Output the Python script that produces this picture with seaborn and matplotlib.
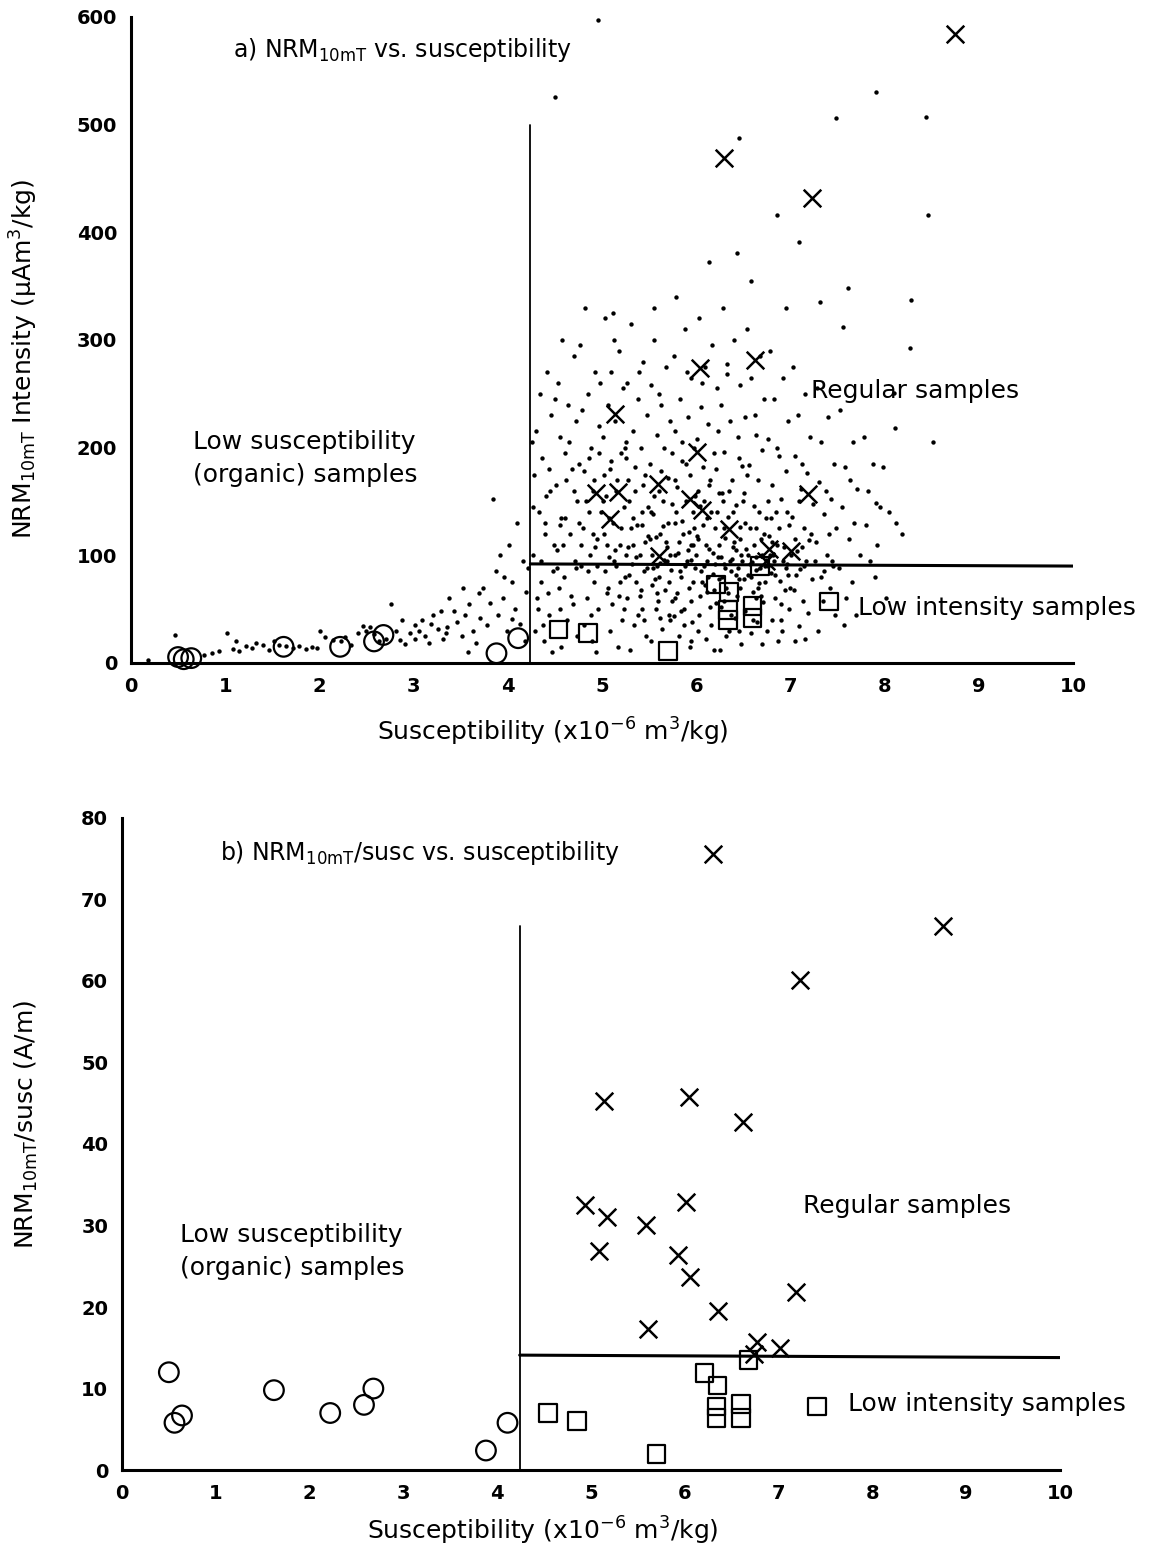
import matplotlib
matplotlib.use("Agg")
import matplotlib.pyplot as plt
import seaborn as sns
import pandas as pd
from matplotlib.ticker import MultipleLocator

# ---------------- data ----------------
# "X" samples (regular samples highlighted)
sus_x = [6.30, 8.75, 7.23, 5.14, 6.04, 6.62, 4.94, 6.01, 5.17, 5.59, 5.09, 5.93,
         6.06, 7.19, 6.35, 5.61, 6.77, 7.01, 6.74]
nrm_x = [469, 584, 432, 231, 274, 281, 158, 196, 159, 166, 134, 152,
         142, 157, 124, 99, 106, 104, 95]
ratio_x = [75.6, 66.7, 60.1, 45.3, 45.8, 42.7, 32.5, 32.9, 31.0, 30.1, 26.9, 26.4,
           23.7, 21.8, 19.5, 17.3, 15.7, 15.0, 14.2]

# squares: low intensity samples
sus_sq = [4.54, 4.85, 5.70, 6.21, 6.35, 6.34, 6.34, 6.60, 6.60, 6.68, 7.41]
nrm_sq = [31, 28, 11, 73, 66, 49, 40, 53, 42, 90, 57]
ratio_sq = [7.0, 6.0, 2.0, 11.9, 10.4, 7.8, 6.4, 8.1, 6.4, 13.5, 7.8]

# circles: low susceptibility (organic) samples
sus_c = [0.50, 0.56, 0.64, 1.62, 2.22, 2.58, 2.68, 3.88, 4.11]
nrm_c = [5.5, 3.5, 4.5, 15, 15, 20, 26, 9, 23]
ratio_c = [12.0, 5.8, 6.7, 9.8, 7.0, 8.0, 10.0, 2.4, 5.8]

# background dots of panel a (all other samples)
dots_tail = [(0.18,3),(0.47,26),(0.78,7),(0.86,9),(0.93,11),(1.02,28),(1.08,13),(1.15,11),(1.22,16),
 (1.28,14),(1.33,19),(1.40,17),(1.46,12),(1.52,20),(1.57,17),(1.72,14),(1.78,16),(1.86,13),(1.92,15),
 (1.97,14),(2.01,30),(2.06,24),(2.14,21),(2.27,24),(2.34,17),(2.41,28),(2.46,34),(2.50,30),(2.54,33),
 (2.63,20),(2.71,22),(2.76,55),(2.81,30),(2.86,21),(2.91,18),(2.96,28),(3.01,35),(3.06,30),(3.09,40),
 (3.12,25),(3.16,19),(3.21,45),(3.26,32),(3.31,22),(3.34,28),(3.38,60),(3.43,48),(3.46,38),(3.51,25),
 (3.55,45),(3.59,55),(3.63,30),(3.66,19),(3.71,42),(3.74,70),(3.78,35),(3.81,56),(3.84,152),(3.87,85),
 (3.90,45),(3.92,100),(3.95,60),(3.99,30),(4.01,110),(4.05,75),(4.08,50),(4.13,36),(4.16,95),(4.19,66),
 (3.52,70),(3.29,48),(3.02,22),(2.88,40),(3.69,65),(3.96,80),(4.04,41),(4.21,88),(4.18,20),(3.58,10),
 (4.10,130),(3.36,33),(3.18,36),(2.58,27),(2.23,20),(1.65,16),(1.12,20)]

dots_cloud = [
 (4.30,215),(4.36,190),(4.28,175),(4.45,160),(4.33,140),(4.40,120),(4.27,100),(4.48,85),(4.35,75),
 (4.31,60),(4.44,45),(4.29,30),(4.38,20),(4.47,10),(4.34,250),(4.42,270),(4.46,230),(4.26,205),
 (4.39,130),(4.43,65),(4.32,50),(4.37,35),(4.41,155),(4.27,145),(4.49,110),
 (4.58,300),(4.70,285),(4.53,260),(4.64,240),(4.72,225),(4.55,210),(4.61,195),(4.68,180),(4.51,165),
 (4.74,150),(4.57,135),(4.66,120),(4.52,105),(4.71,95),(4.60,80),(4.54,70),(4.69,55),(4.63,40),
 (4.73,25),(4.56,15),(4.67,62),(4.50,245),(4.62,170),(4.59,110),(4.65,205),(4.72,88),(4.55,128),
 (4.82,330),(4.77,295),(4.93,270),(4.85,250),(4.79,235),(4.97,220),(4.88,200),(4.76,185),(4.91,170),
 (4.83,150),(4.99,140),(4.80,125),(4.95,115),(4.87,100),(4.78,90),(4.92,75),(4.84,60),(4.96,50),
 (4.81,35),(4.89,20),(4.94,10),(4.98,260),(4.86,190),(4.90,160),(4.76,130),(4.85,85),(4.93,108),
 (4.81,178),(4.97,195),(4.88,45),
 (5.03,320),(5.18,290),(5.10,270),(5.22,255),(5.06,240),(5.14,225),(5.01,210),(5.20,195),(5.08,180),
 (5.16,170),(5.04,155),(5.23,145),(5.12,130),(5.02,120),(5.19,110),(5.07,98),(5.15,90),(5.24,80),
 (5.05,65),(5.11,55),(5.21,40),(5.09,30),(5.17,15),(5.13,300),(5.24,200),(5.01,150),(5.14,105),
 (5.06,70),(5.20,125),(5.10,188),(5.03,85),(5.18,62),
 (5.31,315),(5.44,280),(5.27,260),(5.38,245),(5.48,230),(5.33,215),(5.41,200),(5.26,190),(5.46,175),
 (5.35,160),(5.29,150),(5.43,140),(5.37,128),(5.49,118),(5.28,108),(5.40,100),(5.32,92),(5.45,85),
 (5.36,75),(5.27,60),(5.42,50),(5.34,35),(5.47,25),(5.30,12),(5.39,270),(5.26,205),(5.44,165),
 (5.33,135),(5.48,88),(5.38,45),(5.29,82),(5.46,112),(5.35,182),(5.41,68),
 (5.55,300),(5.68,275),(5.52,258),(5.63,240),(5.72,225),(5.58,212),(5.66,200),(5.51,185),(5.70,172),
 (5.60,160),(5.74,148),(5.54,138),(5.65,127),(5.57,117),(5.69,108),(5.53,100),(5.62,93),(5.73,86),
 (5.56,78),(5.67,68),(5.59,58),(5.71,45),(5.64,32),(5.52,20),(5.61,250),(5.74,195),(5.55,155),
 (5.68,112),(5.60,80),(5.72,40),(5.58,90),(5.66,96),(5.53,72),(5.70,130),(5.63,178),(5.57,50),
 (5.79,340),(5.88,310),(5.76,285),(5.95,265),(5.83,245),(5.91,228),(5.78,215),(5.98,200),(5.85,188),
 (5.93,175),(5.80,163),(5.89,150),(5.97,140),(5.77,130),(5.86,120),(5.94,110),(5.81,102),(5.90,95),
 (5.99,88),(5.84,80),(5.92,70),(5.78,60),(5.87,50),(5.96,38),(5.82,25),(5.93,15),(5.90,270),
 (5.85,205),(5.77,170),(5.98,125),(5.88,90),(5.80,65),(5.95,96),(5.83,85),(5.91,105),(5.76,44),(5.99,155),
 (6.03,320),(6.17,295),(6.09,275),(6.22,255),(6.05,238),(6.13,222),(6.01,208),(6.19,195),(6.07,182),
 (6.15,170),(6.24,158),(6.04,146),(6.11,135),(6.20,125),(6.02,115),(6.14,106),(6.23,98),(6.08,90),
 (6.18,83),(6.06,75),(6.12,66),(6.21,56),(6.03,45),(6.16,35),(6.10,22),(6.19,12),(6.06,260),
 (6.23,215),(6.14,165),(6.01,118),(6.20,92),(6.09,72),(6.12,95),(6.18,102),(6.05,85),(6.24,78),
 (6.15,52),(6.02,30),
 (6.28,330),(6.40,300),(6.33,278),(6.47,258),(6.26,240),(6.36,225),(6.44,210),(6.30,196),(6.49,183),
 (6.38,170),(6.27,158),(6.42,147),(6.34,136),(6.46,126),(6.31,116),(6.39,108),(6.48,100),(6.29,92),
 (6.37,85),(6.45,78),(6.32,70),(6.43,62),(6.26,52),(6.41,42),(6.35,30),(6.48,18),(6.33,268),
 (6.45,190),(6.28,150),(6.40,112),(6.36,95),(6.30,58),(6.44,88),(6.38,97),(6.27,80),(6.47,70),
 (6.42,105),(6.32,25),
 (6.54,310),(6.68,285),(6.58,265),(6.72,245),(6.52,228),(6.64,212),(6.70,198),(6.56,184),(6.66,170),
 (6.51,158),(6.61,146),(6.74,135),(6.57,125),(6.69,115),(6.53,106),(6.63,98),(6.73,90),(6.55,82),
 (6.67,74),(6.60,66),(6.71,57),(6.52,48),(6.65,38),(6.58,28),(6.70,18),(6.62,230),(6.54,175),
 (6.72,120),(6.59,94),(6.66,70),(6.68,88),(6.57,92),(6.74,96),(6.63,86),(6.51,78),(6.69,62),
 (6.78,290),(6.92,265),(6.83,245),(6.97,225),(6.76,208),(6.88,192),(6.95,178),(6.80,165),(6.90,152),
 (6.85,140),(6.99,128),(6.77,118),(6.93,108),(6.82,100),(6.96,92),(6.79,84),(6.89,76),(6.94,68),
 (6.84,60),(6.98,50),(6.81,40),(6.91,30),(6.87,20),(6.86,200),(6.79,135),(6.95,88),(6.90,55),
 (6.83,95),(6.76,90),(6.97,82),
 (7.03,275),(7.15,250),(7.08,230),(7.21,210),(7.05,192),(7.18,176),(7.11,162),(7.24,148),(7.02,136),
 (7.14,125),(7.20,114),(7.07,104),(7.17,95),(7.10,87),(7.23,78),(7.04,68),(7.13,58),(7.19,46),
 (7.09,34),(7.16,22),(7.12,185),(7.22,120),(7.06,82),(7.01,100),(7.14,90),
 (7.28,255),(7.40,228),(7.33,205),(7.46,185),(7.30,168),(7.43,152),(7.36,138),(7.48,125),(7.27,112),
 (7.39,100),(7.45,90),(7.32,80),(7.42,70),(7.35,58),(7.47,45),(7.29,30),(7.38,160),(7.44,95),
 (7.31,335),(7.41,120),
 (7.53,235),(7.66,205),(7.58,182),(7.71,162),(7.55,145),(7.68,130),(7.62,115),(7.74,100),(7.52,88),
 (7.65,75),(7.59,60),(7.70,45),(7.63,170),(7.61,348),(7.56,312),(7.57,35),
 (7.78,210),(7.88,185),(7.82,160),(7.95,145),(7.80,128),(7.92,110),(7.85,95),(7.98,182),(7.91,149),
 (8.05,140),(8.12,130),(8.18,120),(8.10,251),(8.11,218),(7.90,80),(8.02,60)]

dots_dense = [(5.02,175),(5.07,135),(5.13,95),(5.19,75),(5.23,50),(5.28,170),(5.31,125),(5.36,98),
 (5.40,62),(5.45,40),(5.49,145),(5.51,115),(5.54,88),(5.58,65),(5.62,42),(5.65,150),(5.69,95),
 (5.71,75),(5.74,58),(5.77,100),(5.79,140),(5.82,112),(5.84,48),(5.87,35),(5.89,185),(5.92,122),
 (5.94,58),(5.97,75),(6.00,100),(6.02,160),(6.04,62),(6.07,128),(6.10,110),(6.13,80),(6.16,140),
 (6.19,68),(6.21,180),(6.24,110),(6.26,98),(6.29,125),(6.31,88),(6.34,65),(6.37,45),(6.39,140),
 (6.42,82),(6.46,115),(6.49,95),(6.52,130),(6.55,100),(6.58,80),(6.61,110),(6.64,60),(6.67,140),
 (6.70,100),(6.73,75),(6.76,150),(6.80,112),(6.84,82),(6.88,125),(6.92,95),(6.96,140),(7.00,70),
 (7.05,115),(7.09,150),(4.35,95),(4.44,180),(4.52,88),(4.61,135),(4.70,160),(4.78,110),(4.86,140),
 (4.95,90),(4.55,50),(4.90,120),(5.05,110),(5.15,160),(5.25,100),(5.33,110),(5.43,128),(5.52,140),
 (5.62,120),(5.72,100),(5.85,132),(5.97,110),(6.08,150),(6.22,140),(6.35,160),(6.50,150),(6.63,125),
 (6.78,100),(6.86,110),(7.12,108),(7.26,95),(7.36,85),(6.45,30),(6.60,40),(6.90,40),(5.95,20),
 (6.25,12),(6.75,30),(7.05,20)]

dots_outliers = [(4.96,597),(4.50,526),(6.45,488),(6.43,381),(6.14,372),(7.09,391),(7.48,506),
 (7.91,530),(8.44,507),(8.46,416),(8.28,337),(8.27,293),(8.51,205),(6.86,416),(5.55,330),
 (6.58,355),(5.12,325),(6.95,330)]

# threshold lines
sus_cut = 4.24
nrm_cut = 92
nrm_vline_top = 500
ratio_cut = 14.1
ratio_vline_top = 66.7

# ---------------- style ----------------
sns.set_theme(style="white")
plt.rcParams['font.family'] = ['DejaVu Sans']
plt.rcParams['mathtext.default'] = 'regular'
plt.rcParams['text.color'] = 'black'
plt.rcParams['axes.labelcolor'] = 'black'
plt.rcParams['xtick.color'] = 'black'
plt.rcParams['ytick.color'] = 'black'

fig = plt.figure(figsize=(11.56, 15.45), dpi=100)
axa = fig.add_axes([0.1133, 0.5709, 0.8149, 0.4181])
axb = fig.add_axes([0.1055, 0.0485, 0.8115, 0.4221])

all_dots = dots_tail + dots_cloud + dots_dense + dots_outliers
df_dots = pd.DataFrame(all_dots, columns=["sus", "nrm"])

sns.scatterplot(data=df_dots, x="sus", y="nrm", ax=axa, s=10, color="black",
                linewidth=0, marker="o", clip_on=False, legend=False)
sns.scatterplot(x=sus_x, y=nrm_x, ax=axa, marker="x", s=160, color="black",
                linewidth=1.8, clip_on=False, legend=False)
sns.scatterplot(x=sus_sq, y=nrm_sq, ax=axa, marker="s", s=160, facecolor="none",
                edgecolor="black", linewidth=1.6, clip_on=False, legend=False)
sns.scatterplot(x=sus_c, y=nrm_c, ax=axa, marker="o", s=200, facecolor="none",
                edgecolor="black", linewidth=1.6, clip_on=False, legend=False)

sns.scatterplot(x=sus_x, y=ratio_x, ax=axb, marker="x", s=160, color="black",
                linewidth=1.8, clip_on=False, legend=False)
sns.scatterplot(x=sus_sq, y=ratio_sq, ax=axb, marker="s", s=160, facecolor="none",
                edgecolor="black", linewidth=1.6, clip_on=False, legend=False)
sns.scatterplot(x=sus_c, y=ratio_c, ax=axb, marker="o", s=200, facecolor="none",
                edgecolor="black", linewidth=1.6, clip_on=False, legend=False)

axa.plot([sus_cut, sus_cut], [0, nrm_vline_top], color="black", lw=1.3)
axa.plot([sus_cut, 10], [nrm_cut, nrm_cut - 2], color="black", lw=2.2)
axb.plot([sus_cut, sus_cut], [0, ratio_vline_top], color="black", lw=1.3)
axb.plot([sus_cut, 10], [ratio_cut, ratio_cut - 0.3], color="black", lw=2.2)

for ax, ylim, ymaj, ymin in [(axa, 600, 100, 50), (axb, 80, 10, 5)]:
    ax.set_xlim(0, 10)
    ax.set_ylim(0, ylim)
    ax.xaxis.set_major_locator(MultipleLocator(1))
    ax.xaxis.set_minor_locator(MultipleLocator(0.5))
    ax.yaxis.set_major_locator(MultipleLocator(ymaj))
    ax.yaxis.set_minor_locator(MultipleLocator(ymin))
    for s in ["top", "right"]:
        ax.spines[s].set_visible(False)
    for s in ["left", "bottom"]:
        ax.spines[s].set_linewidth(2.2)
        ax.spines[s].set_color("black")
    ax.tick_params(which="both", direction="in", length=11, width=1.8,
                   colors="black", labelsize=14, pad=10)
    for lab in ax.get_xticklabels() + ax.get_yticklabels():
        lab.set_fontweight("bold")
    ax.set_facecolor("white")

fs = 18
axa.set_xlabel(r"Susceptibility (x10$^{-6}$ m$^{3}$/kg)", fontsize=fs, color="black")
axa.set_ylabel(r"NRM$_{10mT}$ Intensity ($\mu$Am$^{3}$/kg)", fontsize=fs, color="black")
axb.set_xlabel(r"Susceptibility (x10$^{-6}$ m$^{3}$/kg)", fontsize=fs, color="black")
axb.set_ylabel(r"NRM$_{10mT}$/susc (A/m)", fontsize=fs, color="black")
axa.xaxis.set_label_coords(0.448, -0.082)
axa.yaxis.set_label_coords(-0.097, 0.47)
axb.xaxis.set_label_coords(0.449, -0.069)
axb.yaxis.set_label_coords(-0.087, 0.53)

kw = dict(fontsize=fs, va="center", color="black")
axa.text(1.08, 569, r"a) NRM$_{10mT}$ vs. susceptibility", fontsize=17, va="center",
         color="black")
axa.text(0.66, 190, "Low susceptibility\n(organic) samples", linespacing=1.5, **kw)
axa.text(7.22, 253, "Regular samples", **kw)
axa.text(7.72, 51, "Low intensity samples", **kw)

axb.text(1.04, 75.7, r"b) NRM$_{10mT}$/susc vs. susceptibility", fontsize=17, va="center",
         color="black")
axb.text(0.62, 26.8, "Low susceptibility\n(organic) samples", linespacing=1.5, **kw)
axb.text(7.26, 32.4, "Regular samples", **kw)
axb.text(7.74, 8.1, "Low intensity samples", **kw)

fig.savefig("out.png", dpi=100, facecolor="white")
